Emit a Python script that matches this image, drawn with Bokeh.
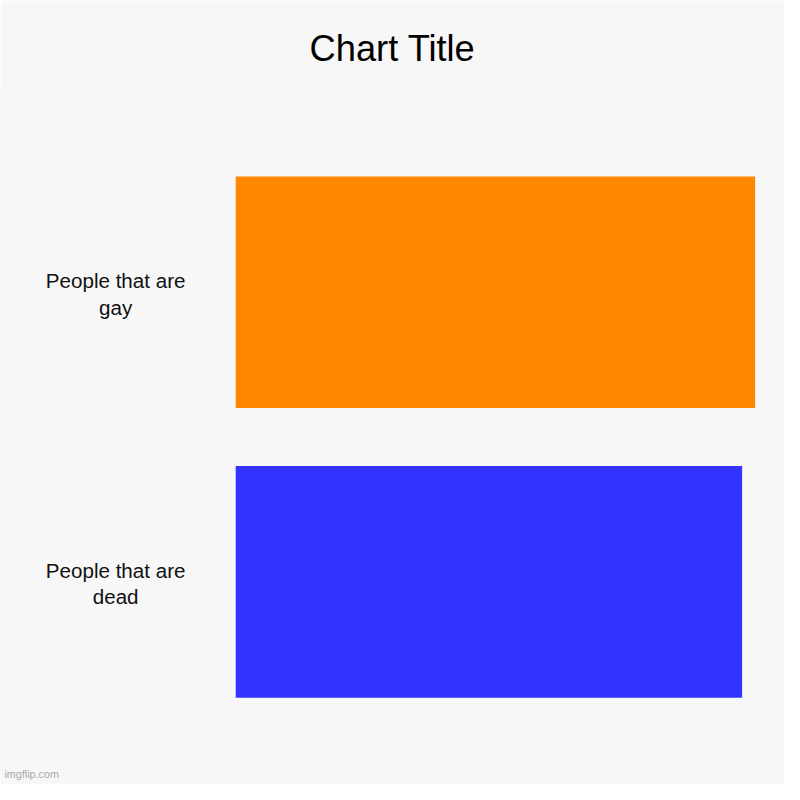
from bokeh.plotting import figure
from bokeh.models import ColumnDataSource, FactorRange, Range1d, Label
from bokeh.core.properties import value
from bokeh.embed import file_html
from bokeh.resources import INLINE

# ---- data ----
categories = ["People that are gay", "People that are dead"]
tick_labels = ["People that are\ngay", "People that are\ndead"]
values = [100, 97.5]
colors = ["#ff8800", "#3333ff"]
title_text = "Chart Title"
watermark = "imgflip.com"

# ---- layout (designed on an 800x800 canvas, scaled to fit the window) ----
S = 784 / 800
W = H = 784
BAR_LEFT_PX = 240 * S
BAR_RIGHT_PX = 770 * S
LABEL_CENTER_PX = 117.5 * S
TOP_PX = round(91 * S)
BG = "#f7f7f7"

def px(v):
    return f"{v * S:.2f}px"

px_per_unit = (BAR_RIGHT_PX - BAR_LEFT_PX) / max(values)
x_start = -BAR_LEFT_PX / px_per_unit
x_end = (W - BAR_LEFT_PX) / px_per_unit
label_x = x_start + LABEL_CENTER_PX / px_per_unit

y_range = FactorRange(factors=list(reversed(categories)),
                      range_padding=0.2, range_padding_units="absolute")

p = figure(width=W, height=H, x_range=Range1d(x_start, x_end), y_range=y_range,
           output_backend="svg", toolbar_location=None,
           min_border_left=0, min_border_right=0, min_border_bottom=0,
           min_border_top=TOP_PX)

p.title.text = title_text
p.title.align = "center"
p.title.text_font = "Liberation Sans"
p.title.text_font_size = px(37)
p.title.text_font_style = "normal"
p.title.text_color = "#000000"
p.title.standoff = round(42 * S)

p.background_fill_color = BG
p.border_fill_color = BG
p.outline_line_color = None
p.xaxis.visible = False
p.yaxis.visible = False
p.xgrid.visible = False
p.ygrid.visible = False

src = ColumnDataSource(dict(cat=categories, val=values, color=colors,
                            label=tick_labels,
                            lx=[label_x] * len(categories)))

p.hbar(y="cat", left=0, right="val", height=0.8, fill_color="color",
       line_color=None, source=src)

p.text(x="lx", y="cat", text="label", source=src, text_align="center",
       text_baseline="middle", text_font=value("Liberation Sans"),
       text_font_size=px(21), text_line_height=1.15, text_color="#111111",
       y_offset=2 * S)

p.add_layout(Label(x=4 * S, y=5 * S, x_units="screen", y_units="screen",
                   text=watermark, text_font="Liberation Sans",
                   text_font_size=px(11), text_color="#aaaaaa"))

open("out.html", "w").write(file_html(p, INLINE))
